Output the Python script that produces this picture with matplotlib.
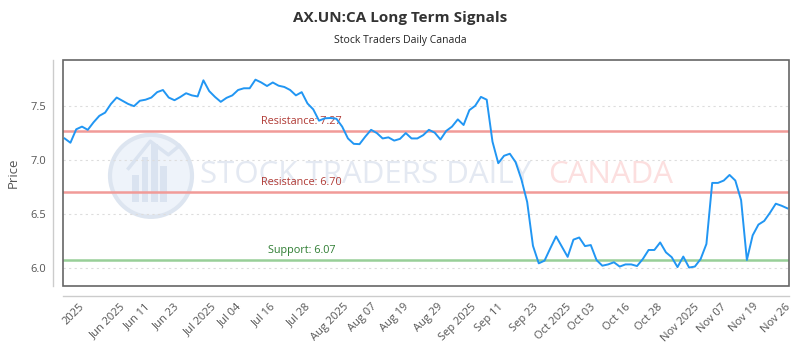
import matplotlib
matplotlib.use('Agg')
import matplotlib.pyplot as plt
import numpy as np
from matplotlib import font_manager
from matplotlib.patches import Rectangle, Ellipse


def pick(*names):
    avail = {f.name for f in font_manager.fontManager.ttflist}
    for n in names:
        if n in avail:
            return n
    return 'DejaVu Sans'


narrow = pick('Liberation Sans Narrow')
has_narrow = narrow == 'Liberation Sans Narrow'
base = pick('Open Sans', 'DejaVu Sans')
if not has_narrow:
    narrow = base

plt.rcParams['font.family'] = [base, 'DejaVu Sans']

# data (one point per session)
price = [
    7.20, 7.16, 7.285, 7.31, 7.28, 7.35, 7.41, 7.44, 7.52, 7.58, 7.55, 7.52, 7.50,
    7.55, 7.56, 7.58, 7.63, 7.65, 7.58, 7.555, 7.585, 7.62, 7.60, 7.59, 7.74, 7.64,
    7.586, 7.54, 7.577, 7.60, 7.65, 7.666, 7.666, 7.746, 7.72, 7.687, 7.72, 7.69,
    7.678, 7.65, 7.60, 7.63, 7.525, 7.47, 7.365, 7.387, 7.39, 7.383, 7.31, 7.20, 7.15,
    7.147, 7.217, 7.28, 7.25, 7.20, 7.21, 7.18, 7.196, 7.25, 7.20, 7.20, 7.23, 7.28,
    7.254, 7.19, 7.27, 7.31, 7.377, 7.325, 7.463, 7.503, 7.586, 7.56, 7.17, 6.97,
    7.039, 7.058, 6.98, 6.82, 6.61, 6.203, 6.04, 6.065, 6.18, 6.29, 6.195, 6.10,
    6.26, 6.28, 6.20, 6.21, 6.07, 6.018, 6.03, 6.05, 6.01, 6.03, 6.03, 6.015,
    6.08, 6.164, 6.164, 6.234, 6.142, 6.097, 6.005, 6.103, 6.001, 6.01, 6.08, 6.22,
    6.787, 6.787, 6.809, 6.861, 6.809, 6.627, 6.071, 6.30, 6.40, 6.434, 6.51,
    6.594, 6.575, 6.551,
]

tick_pos = [1.5, 7.5, 12.5, 17.5, 23.5, 28.5, 34.5, 40.5, 46, 51.5, 57, 63, 68, 73.5,
            79.5, 84.5, 89.5, 95.5, 101, 106.5, 112, 117.5, 123]
tick_labels = ['2025', 'Jun 2025', 'Jun 11', 'Jun 23', 'Jul 2025', 'Jul 04', 'Jul 16',
               'Jul 28', 'Aug 2025', 'Aug 07', 'Aug 19', 'Aug 29', 'Sep 2025', 'Sep 11',
               'Sep 23', 'Oct 2025', 'Oct 03', 'Oct 16', 'Oct 28', 'Nov 2025', 'Nov 07',
               'Nov 19', 'Nov 26']

resistance = [7.27, 6.70]
support = [6.07]
label_pos = 41

x = np.arange(len(price))

fig = plt.figure(figsize=(8, 3.5), dpi=100)
ax = fig.add_axes([0.079, 0.183, 0.907, 0.646])

# watermark
ax.add_patch(Ellipse((0.121, 0.487), 0.113, 0.363, transform=ax.transAxes,
                     facecolor='#eef3fa', edgecolor='#dde5f0', lw=3, zorder=0))
for bx, bh in zip([0.095, 0.108, 0.121, 0.134], [0.12, 0.2, 0.26, 0.16]):
    ax.add_patch(Rectangle((bx, 0.37), 0.009, bh, transform=ax.transAxes,
                           facecolor='#dae3f0', edgecolor='none', zorder=0))
ax.plot([0.09, 0.12, 0.145, 0.16], [0.52, 0.64, 0.58, 0.62], transform=ax.transAxes,
        color='#dae3f0', lw=2.5, zorder=0)
wm_size = 25 if has_narrow else 22.5
ax.text(0.189, 0.49, 'STOCK TRADERS DAILY', transform=ax.transAxes, fontsize=wm_size,
        family=narrow, color='#e4e9f2', ha='left', va='center', zorder=0)
ax.text(0.668, 0.49, 'CANADA', transform=ax.transAxes, fontsize=wm_size,
        family=narrow, color='#fcdfdf', ha='left', va='center', zorder=0)

# levels
for r in resistance:
    ax.axhline(r, color='#f19b98', lw=1.8, zorder=2)
    ax.text(label_pos, r + 0.04, f'Resistance: {r:.2f}', color='#b03a35',
            fontsize=8.5 if has_narrow else 7.8, family=narrow, ha='center',
            va='bottom', zorder=3)
for s in support:
    ax.axhline(s, color='#98cf98', lw=1.8, zorder=2)
    ax.text(label_pos, s + 0.04, f'Support: {s:.2f}', color='#2e7d32',
            fontsize=8.5 if has_narrow else 7.8, family=narrow, ha='center',
            va='bottom', zorder=3)

ax.plot(x, price, color='#2196f3', lw=1.4, zorder=4)

ax.set_xlim(-0.25, len(price) - 0.75)
ax.set_ylim(5.83, 7.93)
ax.set_yticks([6.0, 6.5, 7.0, 7.5])
ax.set_yticklabels(['6.0', '6.5', '7.0', '7.5'])
ax.set_xticks(tick_pos)
ax.set_xticklabels(tick_labels)
ax.tick_params(axis='both', length=0, colors='#555555', labelsize=8)
ax.tick_params(axis='y', pad=5)
ax.tick_params(axis='x', pad=4, labelrotation=45)
for lab in ax.get_xticklabels():
    lab.set_horizontalalignment('right')
    lab.set_rotation_mode('anchor')
    lab.set_verticalalignment('center')

ax.yaxis.grid(True, linestyle=(0, (2, 3)), color='#dddddd', lw=0.8, zorder=1)
ax.xaxis.grid(False)

for side in ['top', 'right']:
    ax.spines[side].set_visible(False)
for side in ['left', 'bottom']:
    ax.spines[side].set_position(('outward', 7))
    ax.spines[side].set_color('#cccccc')
    ax.spines[side].set_linewidth(1)
ax.add_patch(Rectangle((0, 0), 1, 1, transform=ax.transAxes, fill=False,
                       edgecolor='#666666', lw=1.2, zorder=5, clip_on=False))

ax.set_ylabel('Price', fontsize=9.5, color='#555555', labelpad=8)

fig.text(0.5, 0.948, 'AX.UN:CA Long Term Signals', ha='center', va='center',
         fontsize=12.5 if has_narrow else 11, fontweight='bold', color='#333333',
         family=narrow)
fig.text(0.5, 0.885, 'Stock Traders Daily Canada', ha='center', va='center',
         fontsize=8.5 if has_narrow else 7.5, color='#222222', family=narrow)

fig.savefig('out.png', dpi=100, facecolor='white')
